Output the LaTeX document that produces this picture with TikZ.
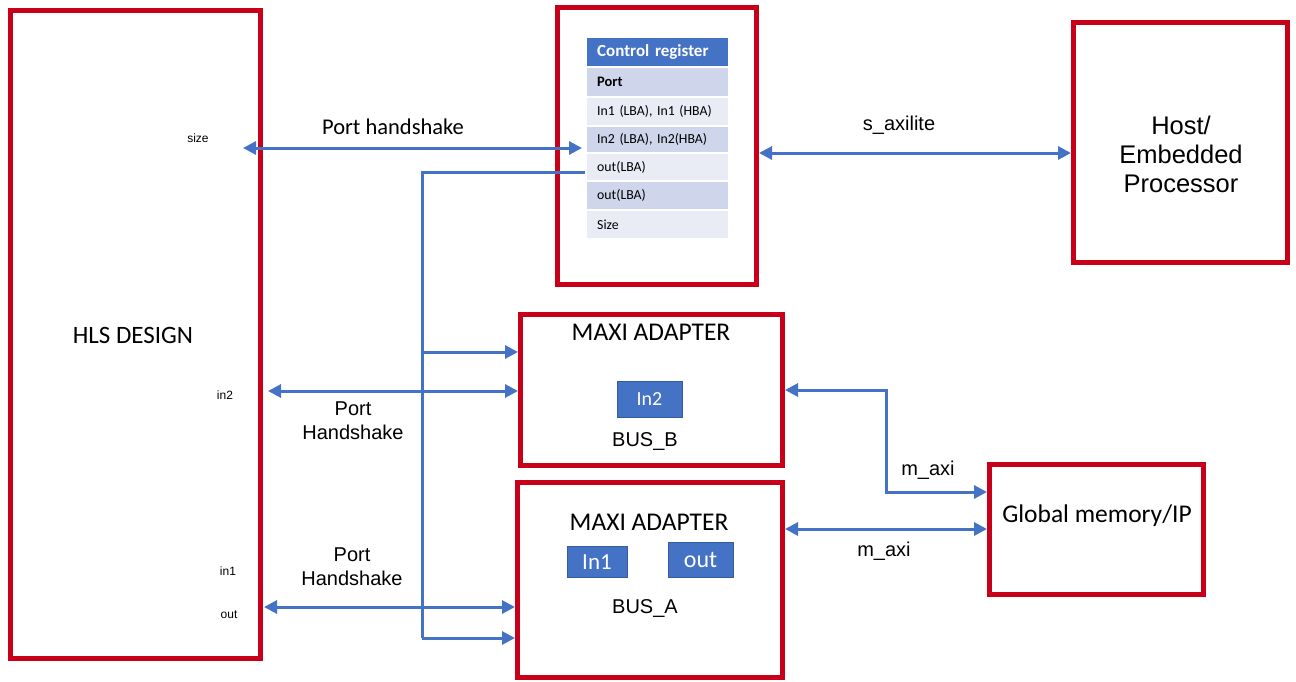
\documentclass[tikz,border=0pt]{standalone}
\usepackage{fontspec}
\setmainfont{Liberation Sans}
\newfontfamily\carlitofont{Carlito}
\usetikzlibrary{arrows.meta}
\definecolor{myred}{RGB}{200,0,25}
\definecolor{myblue}{RGB}{68,114,196}
\definecolor{rowdark}{RGB}{207,213,234}
\definecolor{rowlight}{RGB}{233,235,245}
\tikzset{
  redbox/.style={draw=myred, line width=5pt, fill=white, anchor=north west, inner sep=0pt},
  arr/.style={draw=myblue, line width=3pt, -{Triangle[length=13pt,width=13pt]}},
  dbl/.style={draw=myblue, line width=3pt, {Triangle[length=13pt,width=13pt]}-{Triangle[length=13pt,width=13pt]}},
  trow/.style={anchor=north west, text width=121pt, align=left, inner xsep=10pt, inner ysep=0pt, font=\carlitofont\fontsize{13.8}{15}\selectfont},
  bluebox/.style={fill=myblue, draw=myblue!80!black, line width=0.6pt, text=white, inner sep=0pt},
  big/.style={font=\carlitofont\fontsize{25.5}{28}\selectfont},
  lbl/.style={font=\fontsize{20}{24}\selectfont, align=center},
  small/.style={font=\fontsize{12}{14}\selectfont}
}
\begin{document}
\begin{tikzpicture}[x=1pt,y=-1pt]
\useasboundingbox (0,0) rectangle (1296,681);
\fill[white] (0,0) rectangle (1296,681);
% boxes
\node[redbox, minimum width=250pt, minimum height=648pt] (hls) at (8,8) {};
\node[redbox, minimum width=199pt, minimum height=277pt] (ctrl) at (555,5) {};
\node[redbox, minimum width=214pt, minimum height=240pt] (host) at (1071,20) {};
\node[redbox, minimum width=262pt, minimum height=151pt] (maxib) at (518,312) {};
\node[redbox, minimum width=265pt, minimum height=195pt] (maxia) at (515,480) {};
\node[redbox, minimum width=214pt, minimum height=130pt] (glob) at (987,462) {};
% texts in boxes
\node[font=\carlitofont\fontsize{25}{28}\selectfont] (hlst) at (133,335) {HLS DESIGN};
\node[font=\fontsize{25.5}{29}\selectfont, align=center] (hostt) at (1181,154) {Host/\\Embedded\\Processor};
\node[big] (globt) at (1097,516) {Global memory/IP};
\node[big] (mbt) at (651,332) {MAXI ADAPTER};
\node[big] (mat) at (649,522) {MAXI ADAPTER};
\node[bluebox, minimum width=65pt, minimum height=36pt, font=\carlitofont\fontsize{20}{24}\selectfont] (in2b) at (649.5,399.5) {In2};
\node[bluebox, minimum width=60pt, minimum height=31pt, font=\carlitofont\fontsize{23}{26}\selectfont] (in1b) at (597,562) {In1};
\node[bluebox, minimum width=65pt, minimum height=35pt, font=\carlitofont\fontsize{24}{26}\selectfont] (outb) at (700.5,560) {out};
\node[lbl] (busb) at (645,441) {BUS\_B};
\node[lbl] (busa) at (645,608) {BUS\_A};
% small port labels
\node[small] (sizel) at (198,138) {size};
\node[small] (in2l) at (225,395) {in2};
\node[small] (in1l) at (228,571) {in1};
\node[small] (outl) at (229,615) {out};
% control register table
\node[trow, fill=myblue, text=white, minimum height=28pt, font=\carlitofont\bfseries\fontsize{17}{19}\selectfont] (hdr) at (587,38) {Control register};
\node[trow, fill=rowdark, minimum height=28pt, font=\carlitofont\bfseries\fontsize{14.5}{16}\selectfont] (rport) at (587,68) {Port};
\node[trow, fill=rowlight, minimum height=27pt] (rin1) at (587,98) {In1 (LBA), In1 (HBA)};
\node[trow, fill=rowdark, minimum height=25pt] (rin2) at (587,127) {In2 (LBA), In2(HBA)};
\node[trow, fill=rowlight, minimum height=26pt] (rout) at (587,154) {out(LBA)};
\node[trow, fill=rowdark, minimum height=27pt] (rout2) at (587,182) {out(LBA)};
\node[trow, fill=rowlight, minimum height=27pt] (rsize) at (587,211) {Size};
% connectors
\coordinate (sizeA) at (243,148);
\coordinate (sizeB) at (582,148);
\draw[dbl] (sizeA) -- (sizeB);
\node[font=\carlitofont\fontsize{22.5}{26}\selectfont] (ph1) at (393,127) {Port handshake};

\coordinate (outS) at (585,172);
\coordinate (bend) at (422,172);
\coordinate (br1) at (422,352);
\coordinate (br2) at (422,638);
\draw[draw=myblue, line width=3pt] (outS) -- (bend) -- (br2);
\draw[arr] (br1) -- (br1 -| maxib.west);
\draw[arr] (br2) -- (br2 -| maxia.west);

\coordinate (in2A) at (268,391);
\draw[dbl] (in2A) -- (in2A -| maxib.west);
\node[lbl] (ph2) at (353,421) {Port\\Handshake};

\coordinate (outA) at (264,607);
\draw[dbl] (outA) -- (outA -| maxia.west);
\node[lbl] (ph3) at (352,567) {Port\\Handshake};

\coordinate (sA) at (0,153);
\draw[dbl] (sA -| ctrl.east) -- (sA -| host.west);
\node[lbl] (sax) at (899,125) {s\_axilite};

\coordinate (m1) at (886,390);
\coordinate (m2) at (886,492);
\draw[dbl] (m1 -| maxib.east) -- (m1) -- (m2) -- (m2 -| glob.west);
\node[lbl] (max1) at (928,470) {m\_axi};

\coordinate (m3) at (0,529);
\draw[dbl] (m3 -| maxia.east) -- (m3 -| glob.west);
\node[lbl] (max2) at (884,551) {m\_axi};
\end{tikzpicture}
\end{document}
